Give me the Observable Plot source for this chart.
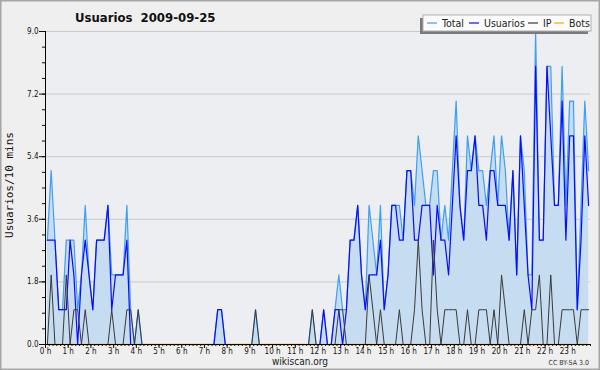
<!DOCTYPE html>
<html><head><meta charset="utf-8">
<script src="https://cdn.jsdelivr.net/npm/d3@7"></script>
<script src="https://cdn.jsdelivr.net/npm/@observablehq/plot@0.6"></script>
<style>
html,body{margin:0;padding:0;background:#efefef;}
#chart svg{display:block;}
</style></head><body><div id="chart"></div>
<script>
// 10-minute slots, one row per hour (6 values each)
const hourLabels = ["0 h","1 h","2 h","3 h","4 h","5 h","6 h","7 h","8 h","9 h","10 h","11 h",
  "12 h","13 h","14 h","15 h","16 h","17 h","18 h","19 h","20 h","21 h","22 h","23 h"];
const yTickValues = [0, 1.8, 3.6, 5.4, 7.2, 9.0];
const seriesNames = ["Total", "Usuarios", "IP", "Bots"];

const total = [
  3,5,3,1,1,3, 3,3,1,2,4,2, 1,3,3,3,4,2, 2,2,2,4,1,0,
  1,0,0,0,0,0, 0,0,0,0,0,0, 0,0,0,0,0,0, 0,0,0,1,1,0,
  0,0,0,0,0,0, 0,1,0,0,0,0, 0,0,0,0,0,0, 0,0,0,0,1,0,
  0,1,0,0,1,2, 1,1,3,3,4,2, 1,4,3,2,4,1, 2,4,4,4,3,5,
  5,4,6,5,4,4, 5,5,3,4,3,5, 7,4,3,6,5,6, 5,5,4,5,6,4,
  6,5,3,5,2,6, 5,2,2,9,3,3, 8,8,4,4,8,4, 7,7,1,4,7,5
];
const usuarios = [
  3,3,3,1,1,1, 3,2,0,2,3,2, 1,3,3,3,4,1, 2,2,2,3,0,0,
  0,0,0,0,0,0, 0,0,0,0,0,0, 0,0,0,0,0,0, 0,0,0,1,1,0,
  0,0,0,0,0,0, 0,0,0,0,0,0, 0,0,0,0,0,0, 0,0,0,0,0,0,
  0,1,0,0,1,1, 0,1,3,3,4,2, 1,2,2,2,3,1, 2,4,4,3,3,5,
  5,3,3,4,4,4, 2,4,3,3,2,4, 6,4,3,5,5,6, 4,4,3,5,5,4,
  4,4,3,5,2,6, 4,2,1,8,3,3, 8,6,4,4,7,3, 6,6,1,3,6,4
];
const ip = [
  0,2,0,0,0,2, 0,1,1,0,1,0, 0,0,0,0,0,1, 0,0,0,1,1,0,
  1,0,0,0,0,0, 0,0,0,0,0,0, 0,0,0,0,0,0, 0,0,0,0,0,0,
  0,0,0,0,0,0, 0,1,0,0,0,0, 0,0,0,0,0,0, 0,0,0,0,1,0,
  0,0,0,0,0,1, 1,0,0,0,0,0, 0,2,1,0,1,0, 0,0,0,1,0,0,
  0,1,3,1,0,0, 3,1,0,1,1,1, 1,0,0,1,0,0, 1,1,1,0,1,0,
  2,1,0,0,0,0, 1,0,1,1,2,0, 0,2,0,0,1,1, 1,1,0,1,1,1
];
const bots = [
  0,0,0,0,0,0, 0,0,0,0,0,0, 0,0,0,0,0,0, 0,0,0,0,0,0,
  0,0,0,0,0,0, 0,0,0,0,0,0, 0,0,0,0,0,0, 0,0,0,0,0,0,
  0,0,0,0,0,0, 0,0,0,0,0,0, 0,0,0,0,0,0, 0,0,0,0,0,0,
  0,0,0,0,0,0, 0,0,0,0,0,0, 0,0,0,0,0,0, 0,0,0,0,0,0,
  0,0,0,0,0,0, 0,0,0,0,0,0, 0,0,0,0,0,0, 0,0,0,0,0,0,
  0,0,0,0,0,0, 0,0,0,0,0,0, 0,0,0,0,0,0, 0,0,0,0,0,0
];

const colors = {Total: "#3d9ff5", Usuarios: "#0b0bff", IP: "#3a3a3a", Bots: "#ffa500"};
const data = usuarios.map((u, i) => ({i, total: total[i], usuarios: u, ip: ip[i], bots: bots[i]}));
const yMinor = d3.range(0, 9.0001, 0.45);
const hourTicks = hourLabels.map((_, h) => h * 6 - 0.5);
const minorX = d3.range(-0.5, 144, 1);
const font = "'DejaVu Sans Condensed','DejaVu Sans',sans-serif";

const chart = Plot.plot({
  width: 600, height: 370,
  marginLeft: 45, marginRight: 10, marginTop: 31, marginBottom: 26,
  x: {domain: [-0.5, 143.5]},
  y: {domain: [0, 9]},
  style: {background: "#efefef", fontFamily: font, fontSize: "8px", color: "#111"},
  marks: [
    Plot.frame({fill: "#edeef1", stroke: "none"}),
    Plot.ruleY(yTickValues.slice(1), {stroke: "#c9c9c9"}),
    Plot.areaY(data, {x: "i", y: "total", fill: "#c6dcf0"}),
    Plot.lineY(data, {x: "i", y: "bots", stroke: colors.Bots}),
    Plot.lineY(data, {x: "i", y: "total", stroke: colors.Total, strokeWidth: 1.2}),
    Plot.lineY(data, {x: "i", y: "usuarios", stroke: colors.Usuarios, strokeWidth: 1.2}),
    Plot.lineY(data, {x: "i", y: "ip", stroke: colors.IP, strokeWidth: 1}),
    Plot.ruleX([-0.5], {stroke: "black"}),
    Plot.ruleY([0], {stroke: "black"}),
    Plot.axisY({ticks: yTickValues, tickSize: 6, tickPadding: 1, tickFormat: d => d.toFixed(1), label: null}),
    Plot.axisY({ticks: yMinor, tickSize: 3, tickFormat: () => "", label: null}),
    Plot.axisX({ticks: hourTicks, tickSize: 4, tickPadding: 0, tickFormat: d => hourLabels[Math.round((d + 0.5) / 6)], label: null}),
    Plot.axisX({ticks: minorX, tickSize: 2, tickFormat: () => "", label: null})
  ]
});
document.getElementById("chart").appendChild(chart);

const svg = d3.select(chart);
svg.append("rect").attr("x", 0.75).attr("y", 0.75).attr("width", 598.5).attr("height", 368.5)
  .attr("fill", "none").attr("stroke", "#a6a6a6").attr("stroke-width", 1.5);
svg.append("text").attr("x", 75).attr("y", 22).attr("text-anchor", "start").text("Usuarios  2009-09-25")
  .attr("font-family", font).attr("font-weight", "bold").attr("font-size", 13)
  .attr("fill", "#111").style("white-space", "pre");
svg.append("text").attr("transform", "translate(13,185) rotate(-90)").attr("text-anchor", "middle")
  .attr("font-family", "'DejaVu Sans Mono',monospace").attr("font-size", 11).attr("fill", "#111")
  .text("Usuarios/10 mins");
svg.append("text").attr("x", 300).attr("y", 365).attr("text-anchor", "middle")
  .attr("font-family", font).attr("font-size", 10).attr("fill", "#222").text("wikiscan.org");
svg.append("text").attr("x", 589).attr("y", 365).attr("text-anchor", "end")
  .attr("font-family", font).attr("font-size", 7).attr("fill", "#333").text("CC BY-SA 3.0");

// legend
const lg = svg.append("g").attr("text-anchor", "start");
lg.append("rect").attr("x", 420).attr("y", 18).attr("width", 168).attr("height", 16).attr("fill", "#7a7a7a");
lg.append("rect").attr("x", 423).attr("y", 15).attr("width", 168).attr("height", 16)
  .attr("fill", "#fbfbfb").attr("stroke", "#b0b0b0");
const items = [[427, 442], [469, 484], [528, 543], [554, 569]];
seriesNames.forEach((name, k) => {
  const [lx, tx] = items[k];
  lg.append("line").attr("x1", lx).attr("x2", lx + 10).attr("y1", 23).attr("y2", 23)
    .attr("stroke", colors[name]).attr("stroke-width", 1.2);
  lg.append("text").attr("x", tx).attr("y", 27).attr("text-anchor", "start")
    .attr("font-family", font).attr("font-size", 10.5).attr("fill", "#222").text(name);
});
</script></body></html>
